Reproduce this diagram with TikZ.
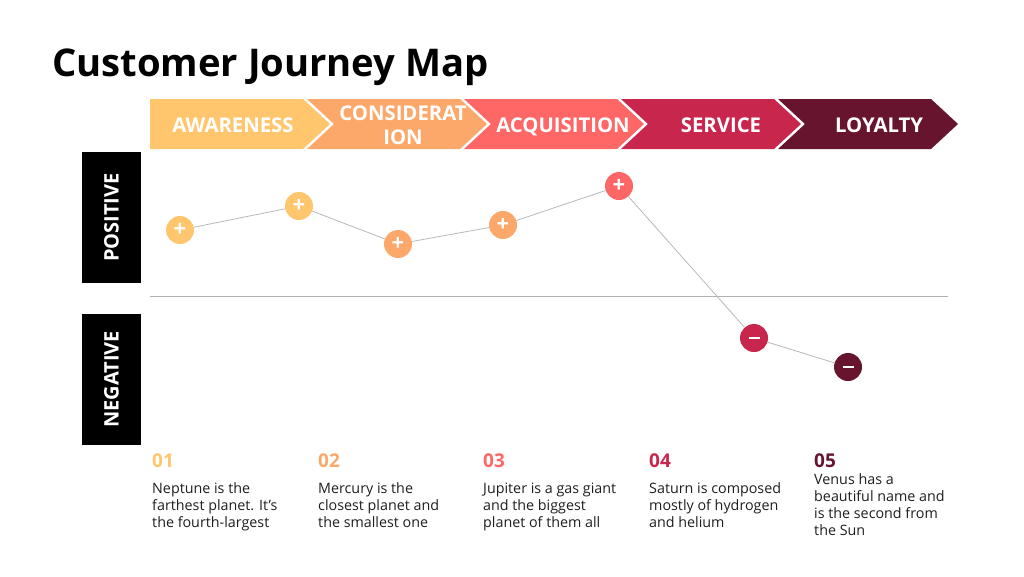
\documentclass[tikz,border=0pt]{standalone}
\usepackage{fontspec}
\setmainfont{Open Sans}

\definecolor{stageA}{HTML}{FFC66D}
\definecolor{stageB}{HTML}{FCA86B}
\definecolor{stageC}{HTML}{FF6666}
\definecolor{stageD}{HTML}{C9264E}
\definecolor{stageE}{HTML}{67152F}
\definecolor{bodytext}{HTML}{1E1E1E}

\tikzset{
    stage/.style={text=white, font=\fontsize{20.3}{24}\selectfont\bfseries, align=center},
    mood/.style={fill=black, text=white, rotate=90, minimum width=131pt, minimum height=59pt,
        font=\fontsize{20}{22}\selectfont\bfseries},
    point/.style={circle, minimum size=28pt, inner sep=0pt, text=white,
        font=\fontsize{22}{22}\selectfont\bfseries},
    num/.style={anchor=west, inner sep=0pt, font=\fontsize{19}{22}\selectfont\bfseries},
    desc/.style={anchor=west, inner sep=0pt, align=left, text=bodytext,
        font=\fontsize{14.3}{17}\selectfont},
    trail/.style={draw=black!28, line width=0.8pt}
}

\begin{document}
\begin{tikzpicture}[x=1pt, y=-1pt]
    \useasboundingbox (0, 0) rectangle (1024, 576);

    \node[anchor=base west, inner sep=0pt, font=\fontsize{38.2}{42}\selectfont\bfseries] (title) at (52, 76) {Customer Journey Map};

    % stages
    \fill[stageA] (150, 99) -- (303, 99) -- (330, 124) -- (303, 149) -- (150, 149) -- cycle;
    \fill[stageB] (307, 99) -- (460, 99) -- (487, 124) -- (460, 149) -- (307, 149) -- (334, 124) -- cycle;
    \fill[stageC] (464, 99) -- (617, 99) -- (644, 124) -- (617, 149) -- (464, 149) -- (491, 124) -- cycle;
    \fill[stageD] (621, 99) -- (774, 99) -- (801, 124) -- (774, 149) -- (621, 149) -- (648, 124) -- cycle;
    \fill[stageE] (778, 99) -- (931, 99) -- (958, 124) -- (931, 149) -- (778, 149) -- (805, 124) -- cycle;

    \node[stage, anchor=base] (awareness) at (233, 132) {AWARENESS};
    \node[stage] (consideration) at (403, 125) {CONSIDERAT\\ION};
    \node[stage, anchor=base] (acquisition) at (563, 132) {ACQUISITION};
    \node[stage, anchor=base] (service) at (721, 132) {SERVICE};
    \node[stage, anchor=base] (loyalty) at (879, 132) {LOYALTY};

    \node[mood] (positive) at (111.5, 217.5) {POSITIVE};
    \node[mood] (negative) at (111.5, 379.5) {NEGATIVE};

    \coordinate (axisL) at (150, 296);
    \coordinate (axisR) at (948, 296);
    \draw[draw=black!30, line width=0.8pt] (axisL) -- (axisR);

    \node[point, fill=stageA] (p1) at (180, 230) {+};
    \node[point, fill=stageA] (p2) at (299, 206) {+};
    \node[point, fill=stageB] (p3) at (398, 244) {+};
    \node[point, fill=stageB] (p4) at (503, 225) {+};
    \node[point, fill=stageC] (p5) at (619, 186) {+};
    \node[point, fill=stageD] (p6) at (754, 338) {\rule{11pt}{2.8pt}};
    \node[point, fill=stageE] (p7) at (848, 367) {\rule{11pt}{2.8pt}};
    \draw[trail] (p1) -- (p2);
    \draw[trail] (p2) -- (p3);
    \draw[trail] (p3) -- (p4);
    \draw[trail] (p4) -- (p5);
    \draw[trail] (p5) -- (p6);
    \draw[trail] (p6) -- (p7);

    % notes
    \node[num, text=stageA] (n1) at (152, 461) {01};
    \node[num, text=stageB] (n2) at (318, 461) {02};
    \node[num, text=stageC] (n3) at (483, 461) {03};
    \node[num, text=stageD] (n4) at (649, 461) {04};
    \node[num, text=stageE] (n5) at (814, 461) {05};

    \node[desc] (d1) at (152, 507) {\strut Neptune is the\\farthest planet. It’s\\the fourth-largest\strut};
    \node[desc] (d2) at (318, 507) {\strut Mercury is the\\closest planet and\\the smallest one\strut};
    \node[desc] (d3) at (483, 507) {\strut Jupiter is a gas giant\\and the biggest\\planet of them all\strut};
    \node[desc] (d4) at (649, 507) {\strut Saturn is composed\\mostly of hydrogen\\and helium\strut};
    \node[desc] (d5) at (814, 507) {\strut Venus has a\\beautiful name and\\is the second from\\the Sun\strut};
\end{tikzpicture}
\end{document}
